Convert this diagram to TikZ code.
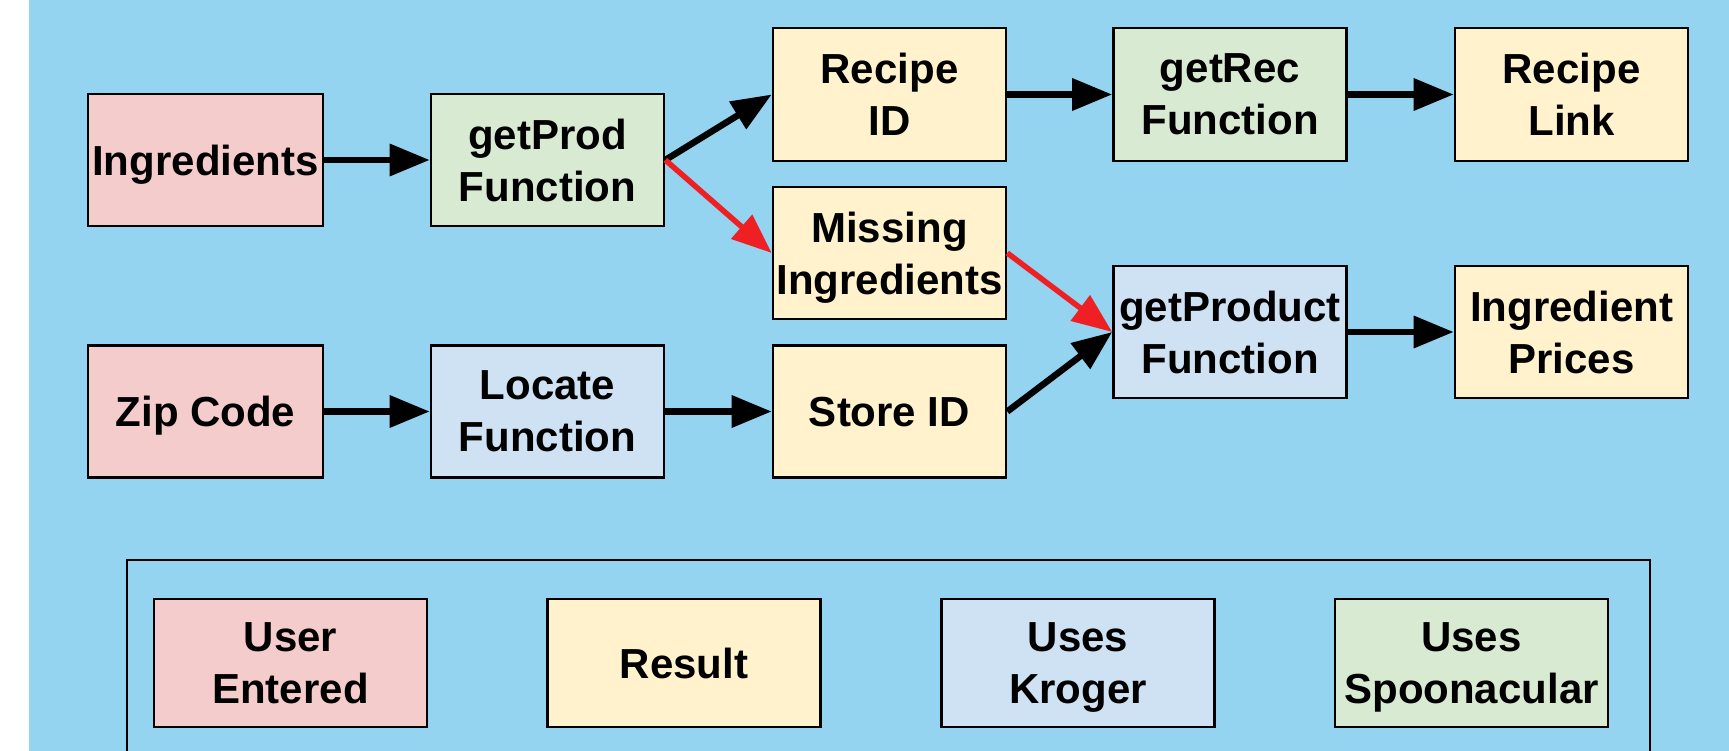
\documentclass[tikz,border=0pt]{standalone}
\usepackage{fontspec}
\setmainfont{Liberation Sans}
\usetikzlibrary{arrows.meta}
\definecolor{bgblue}{HTML}{94D4F0}
\definecolor{cpink}{HTML}{F4CCCC}
\definecolor{cyellow}{HTML}{FFF2CC}
\definecolor{cgreen}{HTML}{D9EAD3}
\definecolor{cblue}{HTML}{CFE2F3}
\definecolor{cred}{HTML}{EE2024}
\tikzset{
  box/.style={draw=black, line width=2.6pt, inner sep=0pt, minimum width=233pt, minimum height=133pt,
    align=center, text depth=0pt, font=\bfseries\fontsize{42}{52}\selectfont},
  lbox/.style={box, minimum width=273pt, minimum height=128pt},
  arr/.style={line width=6.5pt, -{Triangle[length=40pt,width=31pt]}},
  redarr/.style={arr, cred, line width=5.5pt},
}
\begin{document}
\begin{tikzpicture}[x=1pt,y=-1pt]
\useasboundingbox (0,0) rectangle (1729,751);
\clip (0,0) rectangle (1729,751);
\fill[bgblue] (29,-5) rectangle (1735,760);

\node[box, fill=cpink, minimum width=235pt, minimum height=132pt] (ing) at (205.5,160) {Ingredients};
\node[box, fill=cgreen, minimum height=132pt] (gp) at (547.5,160) {getProd\\Function};
\node[box, fill=cyellow] (rid) at (889.5,94.5) {Recipe\\ID};
\node[box, fill=cgreen] (gr) at (1230,94.5) {getRec\\Function};
\node[box, fill=cyellow] (rl) at (1571.5,94.5) {Recipe\\Link};
\node[box, fill=cyellow, minimum height=132pt] (mi) at (889.5,253) {Missing\\Ingredients};
\node[box, fill=cblue, minimum height=132pt] (gpr) at (1230,332) {getProduct\\Function};
\node[box, fill=cyellow, minimum height=132pt] (ip) at (1571.5,332) {Ingredient\\Prices};
\node[box, fill=cpink, minimum width=235pt, minimum height=132pt] (zip) at (205.5,411.5) {Zip Code};
\node[box, fill=cblue, minimum height=132pt] (loc) at (547.5,411.5) {Locate\\Function};
\node[box, fill=cyellow, minimum height=132pt] (sid) at (889.5,411.5) {Store ID};

\draw[arr] (ing) -- (gp);
\draw[arr] (gp.east) -- (rid.west);
\draw[arr] (rid) -- (gr);
\draw[arr] (gr) -- (rl);
\draw[redarr] (gp.east) -- (mi.west);
\draw[redarr] (mi.east) -- (gpr.west);
\draw[arr] (sid.east) -- (gpr.west);
\draw[arr] (gpr) -- (ip);
\draw[arr] (zip) -- (loc);
\draw[arr] (loc) -- (sid);

\draw[line width=2.6pt] (127,560) rectangle (1650,770);
\node[lbox, fill=cpink] (lu) at (290.5,663) {User\\Entered};
\node[lbox, fill=cyellow] (lr) at (684,663) {Result};
\node[lbox, fill=cblue] (lk) at (1078,663) {Uses\\Kroger};
\node[lbox, fill=cgreen] (ls) at (1471.5,663) {Uses\\Spoonacular};
\end{tikzpicture}
\end{document}
